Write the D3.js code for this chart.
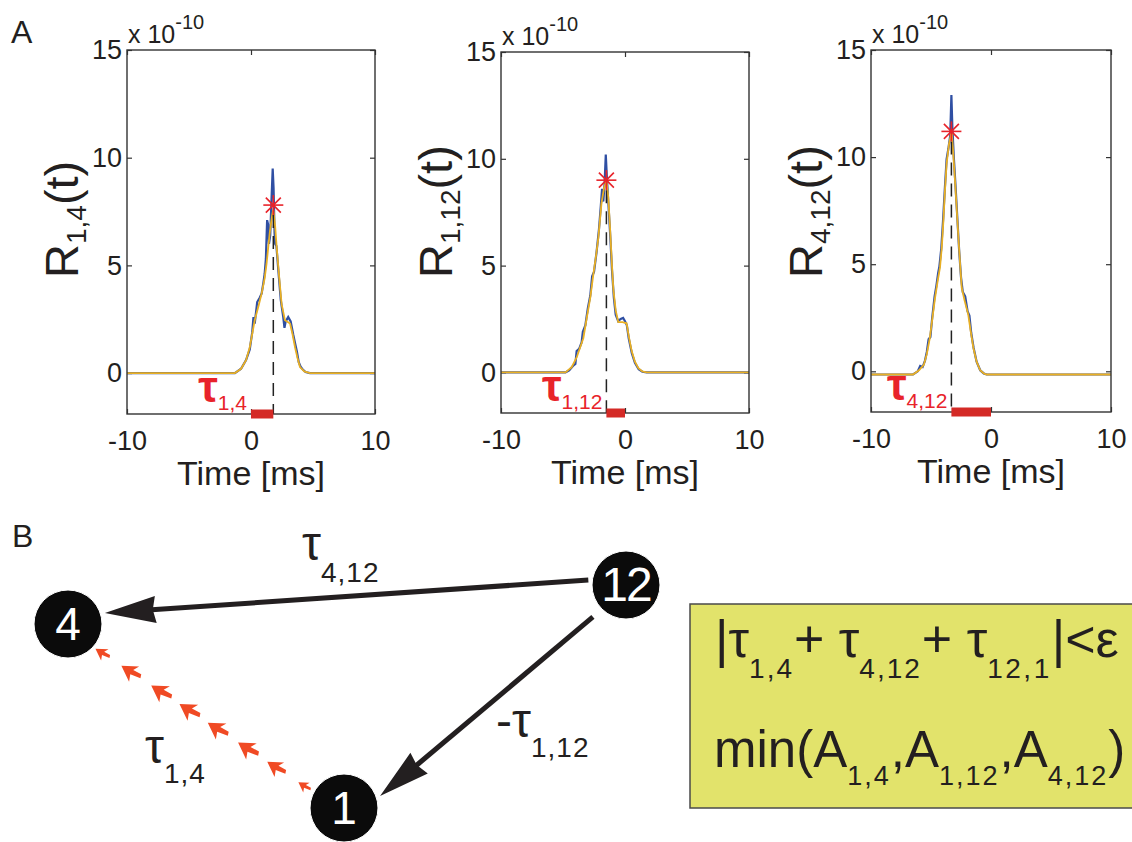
<!DOCTYPE html>
<html>
<head>
<meta charset="utf-8">
<script src="https://cdn.jsdelivr.net/npm/d3@7"></script>
<style>
body { margin: 0; background: #fff; }
svg text { font-family: "Liberation Sans", Arial, sans-serif; fill: #231f20; white-space: pre; }
</style>
</head>
<body>
<div id="chart"></div>
<script>
// ---------- data ----------
const xTicks = [-10, 0, 10];
const yTicks = [0, 5, 10, 15];
const pairLabels = ["1,4", "1,12", "4,12"];
const tauValues = [1.8, -1.5, -3.3];     // lag of the smoothed peak [ms]
const peakValues = [7.8, 9.0, 11.2];     // smoothed peak height (x 1e-10)

// raw cross-correlation (blue) and smoothed (orange), [time ms, value x1e-10]
const raw14 = [[-10,0],[-1.3,0],[-0.8,0.2],[-0.4,0.6],[-0.1,1.1],[0.1,1.9],[0.2,2.6],[0.3,2.3],[0.5,3.3],[0.7,3.5],[0.86,3.7],[1.0,4.2],[1.1,4.6],[1.2,5.3],[1.3,7.1],[1.38,6.9],[1.45,6.0],[1.55,6.4],[1.65,8.0],[1.75,9.5],[1.82,8.6],[1.9,6.5],[1.95,6.0],[2.05,5.9],[2.2,4.8],[2.4,3.4],[2.6,2.6],[2.7,2.1],[2.8,2.4],[3.0,2.6],[3.2,2.4],[3.4,1.8],[3.55,1.4],[3.7,1.0],[3.85,0.5],[4.0,0.3],[4.2,0.15],[4.4,0.05],[4.75,0],[10,0]];
const smooth14 = [[-10,0],[-1.3,0],[-0.8,0.2],[-0.4,0.6],[-0.1,1.2],[0.3,2.45],[0.6,3.1],[0.86,3.7],[1.1,4.4],[1.26,5.1],[1.4,5.9],[1.53,6.6],[1.7,7.3],[1.8,7.6],[1.95,6.8],[2.07,5.85],[2.25,4.6],[2.47,3.2],[2.74,2.45],[3.15,2.3],[3.35,1.8],[3.55,1.2],[3.75,0.7],[3.95,0.28],[4.3,0.08],[4.75,0],[10,0]];

const raw112 = [[-10,0],[-4.8,0],[-4.5,0.1],[-4.2,0.3],[-4.0,0.4],[-3.9,1.0],[-3.7,1.1],[-3.5,1.4],[-3.4,1.9],[-3.2,2.2],[-3.0,3.0],[-2.8,3.6],[-2.65,4.5],[-2.5,4.7],[-2.3,5.6],[-2.1,6.7],[-1.95,7.8],[-1.85,8.6],[-1.75,8.0],[-1.65,8.8],[-1.55,10.2],[-1.45,9.0],[-1.35,8.0],[-1.2,6.5],[-1.05,4.8],[-0.9,3.5],[-0.75,2.7],[-0.55,2.4],[-0.35,2.5],[-0.15,2.55],[0.0,2.4],[0.15,2.2],[0.3,1.6],[0.55,0.9],[0.8,0.45],[1.1,0.15],[1.4,0.03],[1.75,0],[10,0]];
const smooth112 = [[-10,0],[-4.8,0],[-4.3,0.25],[-3.9,0.7],[-3.6,1.2],[-3.36,1.6],[-3.1,2.5],[-2.8,3.5],[-2.55,4.6],[-2.35,5.4],[-2.15,6.3],[-1.9,7.9],[-1.7,8.6],[-1.5,9.0],[-1.35,8.2],[-1.2,6.7],[-1.05,5.0],[-0.94,3.9],[-0.75,2.9],[-0.54,2.35],[-0.2,2.35],[0.13,2.3],[0.3,1.7],[0.54,1.0],[0.8,0.5],[1.08,0.2],[1.4,0.05],[1.75,0],[10,0]];

const raw412 = [[-10,-0.15],[-6.5,-0.15],[-6.1,0.0],[-5.9,0.25],[-5.7,0.2],[-5.5,0.5],[-5.35,0.9],[-5.2,1.5],[-5.05,1.6],[-4.9,2.5],[-4.7,3.5],[-4.55,4.0],[-4.4,4.6],[-4.3,4.9],[-4.15,5.7],[-4.0,7.0],[-3.85,8.5],[-3.7,9.9],[-3.55,10.4],[-3.4,11.0],[-3.3,12.9],[-3.22,11.4],[-3.1,10.0],[-2.95,8.6],[-2.8,7.1],[-2.65,5.6],[-2.5,4.4],[-2.35,3.7],[-2.15,3.5],[-1.95,2.8],[-1.8,2.6],[-1.65,1.8],[-1.45,1.1],[-1.2,0.45],[-0.9,0.05],[-0.6,-0.1],[-0.36,-0.15],[10,-0.15]];
const smooth412 = [[-10,-0.15],[-6.5,-0.15],[-6.0,0.05],[-5.6,0.3],[-5.35,0.8],[-5.1,1.55],[-4.9,2.4],[-4.67,3.4],[-4.45,4.2],[-4.25,4.85],[-4.1,5.8],[-3.97,7.0],[-3.85,8.3],[-3.7,9.7],[-3.5,10.6],[-3.28,11.2],[-3.15,10.2],[-3.0,8.9],[-2.85,7.5],[-2.7,6.1],[-2.55,4.8],[-2.44,3.9],[-2.2,3.3],[-1.9,2.66],[-1.7,1.9],[-1.47,1.1],[-1.2,0.45],[-0.9,0.05],[-0.6,-0.1],[-0.36,-0.15],[10,-0.15]];

const rawSeries = [raw14, raw112, raw412];
const smoothSeries = [smooth14, smooth112, smooth412];

// part B: nodes and edges
const nodeIds = ["4", "12", "1"];
const edgeList = [["12", "4"], ["12", "1"]];
const redArrowSteps = [0, 0.14, 0.28, 0.43, 0.57, 0.71, 0.86, 1];
const redArrowSizes = [0.6, 0.9, 1, 1, 1, 1, 0.95, 0.7];

// ---------- layout ----------
const W = 1132, H = 842;
const PANEL_BOX = [
    { left: 127, right: 375, top: 50, bottom: 414 },
    { left: 501, right: 749, top: 52, bottom: 413 },
    { left: 871, right: 1111, top: 50, bottom: 412 }
];
const Y_DOMAIN = [-1.9, 15];
const BLUE = "#2f4fa3", ORANGE = "#e9b024", RED = "#e8232a", BAR_RED = "#d42a26";

const svg = d3.select("#chart").append("svg")
    .attr("width", W)
    .attr("height", H);

// text with sub/superscripts: parts = [{text, size, shift}]
function richText(parent, x, y, parts) {
    const t = parent.append("text").attr("x", x).attr("y", y);
    let cur = 0;
    parts.forEach(p => {
        const s = p.shift || 0;
        t.append("tspan")
            .attr("dy", s - cur)
            .attr("font-size", p.size)
            .attr("letter-spacing", p.ls || null)
            .text(p.text);
        cur = s;
    });
    return t;
}

// ---------- part A ----------
function drawPanel(i) {
    const box = PANEL_BOX[i];
    const g = svg.append("g");

    const x = d3.scaleLinear().domain([-10, 10]).range([box.left, box.right]);
    const y = d3.scaleLinear().domain(Y_DOMAIN).range([box.bottom, box.top]);

    // axes, ticks pointing inside (matlab style)
    g.append("g").attr("transform", `translate(${box.left},0)`)
        .call(d3.axisLeft(y).tickValues(yTicks).tickSize(-5).tickPadding(5).tickFormat(String));
    g.append("g").attr("transform", `translate(0,${box.bottom})`)
        .call(d3.axisBottom(x).tickValues(xTicks).tickSize(-5).tickPadding(17).tickFormat(String));
    g.append("g").attr("transform", `translate(${box.right},0)`)
        .call(d3.axisRight(y).tickValues(yTicks).tickSize(-5).tickFormat(""));
    g.append("g").attr("transform", `translate(0,${box.top})`)
        .call(d3.axisTop(x).tickValues(xTicks).tickSize(-5).tickFormat(""));

    g.selectAll(".domain").remove();
    g.selectAll(".tick line").attr("stroke", "#333").attr("stroke-width", 1.2);
    g.selectAll(".tick text")
        .attr("font-size", 27)
        .attr("font-family", "Liberation Sans, Arial, sans-serif")
        .attr("fill", "#231f20");

    // curves
    const line = d3.line().x(d => x(d[0])).y(d => y(d[1]));
    g.append("path").datum(rawSeries[i])
        .attr("d", line).attr("fill", "none")
        .attr("stroke", BLUE).attr("stroke-width", 2.2);
    g.append("path").datum(smoothSeries[i])
        .attr("d", line).attr("fill", "none")
        .attr("stroke", ORANGE).attr("stroke-width", 1.8);

    // dashed line from peak down
    const tau = tauValues[i];
    g.append("line")
        .attr("x1", x(tau)).attr("x2", x(tau))
        .attr("y1", y(peakValues[i]) + 10).attr("y2", box.bottom)
        .attr("stroke", "#222").attr("stroke-width", 1.5)
        .attr("stroke-dasharray", "13,8");

    // frame
    g.append("rect")
        .attr("x", box.left).attr("y", box.top)
        .attr("width", box.right - box.left).attr("height", box.bottom - box.top)
        .attr("fill", "none").attr("stroke", "#333").attr("stroke-width", 1.4);

    // tau bar on the x axis
    g.append("rect")
        .attr("x", x(Math.min(tau, 0)))
        .attr("width", Math.abs(x(tau) - x(0)))
        .attr("y", box.bottom - 4.5).attr("height", 9)
        .attr("fill", BAR_RED);

    // asterisk at the peak
    const px = x(tau), py = y(peakValues[i]), r = 10, rd = 7.5;
    const star = g.append("g").attr("stroke", RED).attr("stroke-width", 1.6);
    [[-r, 0, r, 0], [0, -r, 0, r], [-rd, -rd, rd, rd], [-rd, rd, rd, -rd]].forEach(s => {
        star.append("line")
            .attr("x1", px + s[0]).attr("y1", py + s[1])
            .attr("x2", px + s[2]).attr("y2", py + s[3]);
    });

    // tau label
    richText(g, x(Math.min(tau, 0)) - 4, box.bottom - 12, [
        { text: "τ", size: 44 },
        { text: pairLabels[i], size: 21, shift: 8 }
    ]).attr("text-anchor", "end")
      .attr("font-weight", "bold")
      .selectAll("tspan").attr("fill", RED)
      .filter((d, k) => k === 1).attr("font-weight", "normal");

    // exponent label
    richText(g, box.left + 1, box.top - 7, [
        { text: "x 10", size: 25 },
        { text: "-10", size: 20, shift: -14 }
    ]);

    // x label
    g.append("text")
        .attr("x", x(0)).attr("y", box.bottom + 71)
        .attr("text-anchor", "middle")
        .attr("font-size", 34)
        .text("Time [ms]");

    // y label
    richText(g, 0, 0, [
        { text: "R", size: 47 },
        { text: pairLabels[i], size: 28, shift: 8 },
        { text: "(t)", size: 47 }
    ]).attr("transform", `translate(${box.left - 49},278) rotate(-90)`);
}

[0, 1, 2].forEach(drawPanel);

// panel letters
svg.append("text").attr("x", 11).attr("y", 43).attr("font-size", 32).text("A");
svg.append("text").attr("x", 12).attr("y", 547).attr("font-size", 32).text("B");

// ---------- part B ----------
const NODE_POS = { "4": [68, 624], "12": [626, 585], "1": [344, 808] };
const NODE_R = 34;
// per edge: angle (deg) where it leaves/arrives on the node circle and gap
const EDGE_GEOM = [
    { a0: 187.5, g0: 38, a1: -16.6, g1: 38.5 },
    { a0: 136, g0: 46, a1: -18.4, g1: 38 }
];
const rad = d => d * Math.PI / 180;

const gB = svg.append("g");

edgeList.forEach((e, k) => {
    const [s, t] = e.map(id => NODE_POS[id]);
    const geo = EDGE_GEOM[k];
    const x0 = s[0] + geo.g0 * Math.cos(rad(geo.a0)), y0 = s[1] + geo.g0 * Math.sin(rad(geo.a0));
    const x1 = t[0] + geo.g1 * Math.cos(rad(geo.a1)), y1 = t[1] + geo.g1 * Math.sin(rad(geo.a1));
    const len = Math.hypot(x1 - x0, y1 - y0);
    const ux = (x1 - x0) / len, uy = (y1 - y0) / len;
    const headL = 51, headW = 13.5;
    const bx = x1 - ux * headL, by = y1 - uy * headL;
    gB.append("line")
        .attr("x1", x0).attr("y1", y0).attr("x2", bx + ux * 4).attr("y2", by + uy * 4)
        .attr("stroke", "#231f20").attr("stroke-width", 5);
    gB.append("path")
        .attr("d", d3.line()([
            [x1, y1],
            [bx - uy * headW, by + ux * headW],
            [bx + ux * 3, by + uy * 3],
            [bx + uy * headW, by - ux * headW]
        ]) + "Z")
        .attr("fill", "#231f20");
});

// red dotted arrows from 1 towards 4
const redStart = [304, 786], redEnd = [102, 653];
const redAng = Math.atan2(redEnd[1] - redStart[1], redEnd[0] - redStart[0]) * 180 / Math.PI;
gB.selectAll(".redArrow")
    .data(redArrowSteps)
    .join("path")
    .attr("class", "redArrow")
    .attr("transform", (d, k) => {
        const px = redStart[0] + d * (redEnd[0] - redStart[0]);
        const py = redStart[1] + d * (redEnd[1] - redStart[1]);
        return `translate(${px},${py}) rotate(${redAng}) scale(${redArrowSizes[k] * 1.6})`;
    })
    .attr("d", "M7,0 L-3,-6 L-1,-1.5 L-8,0 L-7,2.5 L-1,2 L-3,6 Z")
    .attr("fill", "#f04a24");

// nodes
const nodeG = gB.selectAll(".node")
    .data(nodeIds)
    .join("g")
    .attr("class", "node")
    .attr("transform", d => `translate(${NODE_POS[d][0]},${NODE_POS[d][1]})`);
nodeG.append("circle")
    .attr("r", NODE_R)
    .attr("fill", "#0b0b0b")
    .attr("stroke", "#ffffff").attr("stroke-width", 1);
nodeG.append("text")
    .attr("text-anchor", "middle")
    .attr("y", 16)
    .attr("font-size", d => d === "12" ? 48 : 46)
    .attr("letter-spacing", d => d === "12" ? -2 : 0)
    .style("fill", "#ffffff")
    .text(d => d);

// edge labels
richText(gB, 302, 560, [
    { text: "τ", size: 48 },
    { text: "4,12", size: 28, shift: 22, ls: 1 }
]);
richText(gB, 145, 763, [
    { text: "τ", size: 48 },
    { text: "1,4", size: 28, shift: 20, ls: 1 }
]);
richText(gB, 496, 737, [
    { text: "-τ", size: 48 },
    { text: "1,12", size: 28, shift: 20, ls: 1 }
]);

// condition box
gB.append("rect")
    .attr("x", 690).attr("y", 604)
    .attr("width", 470).attr("height", 204)
    .attr("fill", "#e2e36b")
    .attr("stroke", "#4a4a4a").attr("stroke-width", 1.5);

richText(gB, 715, 657, [
    { text: "|τ", size: 52 },
    { text: "1,4", size: 28, shift: 21, ls: 2 },
    { text: "+ τ", size: 52 },
    { text: "4,12", size: 28, shift: 21, ls: 2 },
    { text: "+ τ", size: 52 },
    { text: "12,1", size: 28, shift: 21, ls: 2.5 },
    { text: "|<ε", size: 52 }
]);
richText(gB, 714, 767, [
    { text: "min(A", size: 51 },
    { text: "1,4", size: 27, shift: 18, ls: 2 },
    { text: ",A", size: 51 },
    { text: "1,12", size: 27, shift: 18, ls: 2 },
    { text: ",A", size: 51 },
    { text: "4,12", size: 27, shift: 18, ls: 2 },
    { text: ")", size: 51 }
]);
</script>
</body>
</html>
